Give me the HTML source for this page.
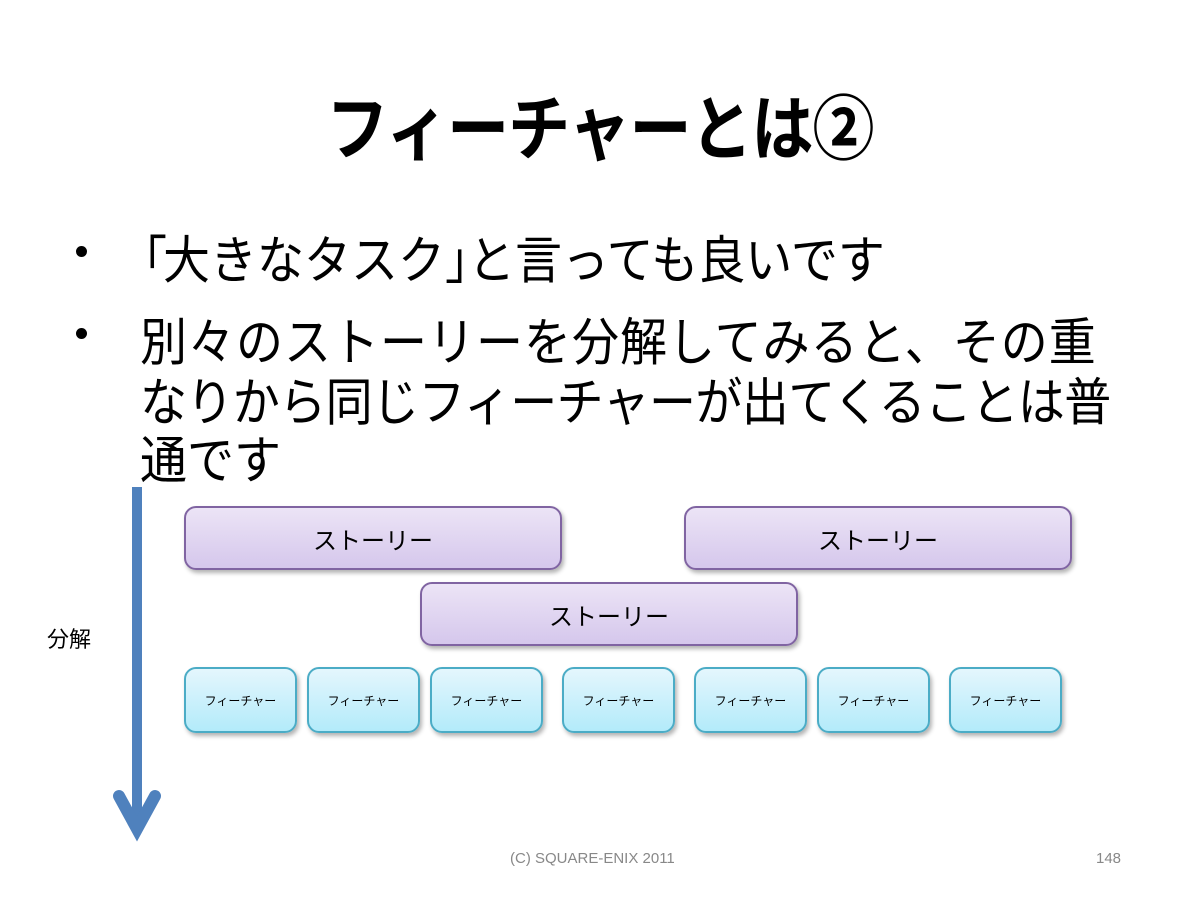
<!DOCTYPE html>
<html><head><meta charset="utf-8"><style>
body{margin:0;width:1200px;height:900px;background:#fff;position:relative;overflow:hidden;font-family:"Liberation Sans","Noto Sans CJK JP",sans-serif;color:#000}
.t{position:absolute;white-space:nowrap}
.title{left:0;width:1200px;text-align:center;top:78px;font-size:62px;font-weight:bold;transform:scaleY(1.15);letter-spacing:-1px}
.b{font-size:47px;left:140px;transform:scaleY(1.1);transform-origin:left top}
.dot{position:absolute;width:11px;height:11px;border-radius:50%;background:#000;left:76px}
.st{position:absolute;height:64px;border:2px solid #8064a2;border-radius:12px;background:linear-gradient(#ece4f6,#d5c7ec);box-shadow:2px 3px 4px rgba(0,0,0,.3);display:flex;align-items:center;justify-content:center;font-size:24px;box-sizing:border-box}
.ft{position:absolute;top:667px;width:113px;height:66px;border:2px solid #4bacc6;border-radius:12px;background:linear-gradient(#e4f6fd,#b3ebfa);box-shadow:2px 3px 4px rgba(0,0,0,.3);display:flex;align-items:center;justify-content:center;font-size:12px;box-sizing:border-box}
</style></head><body>
<div class="t title">フィーチャーとは②</div>
<div class="dot" style="top:246px"></div>
<div class="dot" style="top:328px"></div>
<div class="t b" style="top:218px"><span style="margin-left:-20px">「</span><span style="margin-left:-4px">大きなタスク</span><span style="margin-right:-24px">」</span>と言っても良いです</div>
<div class="t b" style="top:300px;letter-spacing:1px">別々のストーリーを分解してみると、その重</div>
<div class="t b" style="top:360px;letter-spacing:-0.6px">なりから同じフィーチャーが出てくることは普</div>
<div class="t b" style="top:418px">通です</div>
<svg style="position:absolute;left:0;top:0" width="1200" height="900">
<rect x="132" y="487" width="10" height="330" fill="#4f81bd"/>
<polyline points="119,796 137,829 155,796" fill="none" stroke="#4f81bd" stroke-width="12" stroke-linecap="round" stroke-linejoin="miter"/>
</svg>
<div class="t" style="left:47px;top:622px;font-size:22px">分解</div>
<div class="st" style="left:184px;top:506px;width:378px">ストーリー</div>
<div class="st" style="left:684px;top:506px;width:388px">ストーリー</div>
<div class="st" style="left:420px;top:582px;width:378px">ストーリー</div>
<div class="ft" style="left:184px">フィーチャー</div>
<div class="ft" style="left:307px">フィーチャー</div>
<div class="ft" style="left:430px">フィーチャー</div>
<div class="ft" style="left:562px">フィーチャー</div>
<div class="ft" style="left:694px">フィーチャー</div>
<div class="ft" style="left:817px">フィーチャー</div>
<div class="ft" style="left:949px">フィーチャー</div>
<div class="t" style="left:510px;top:850px;font-size:15px;color:#888">(C) SQUARE-ENIX 2011</div>
<div class="t" style="left:1096px;top:850px;font-size:15px;color:#888">148</div>
</body></html>
